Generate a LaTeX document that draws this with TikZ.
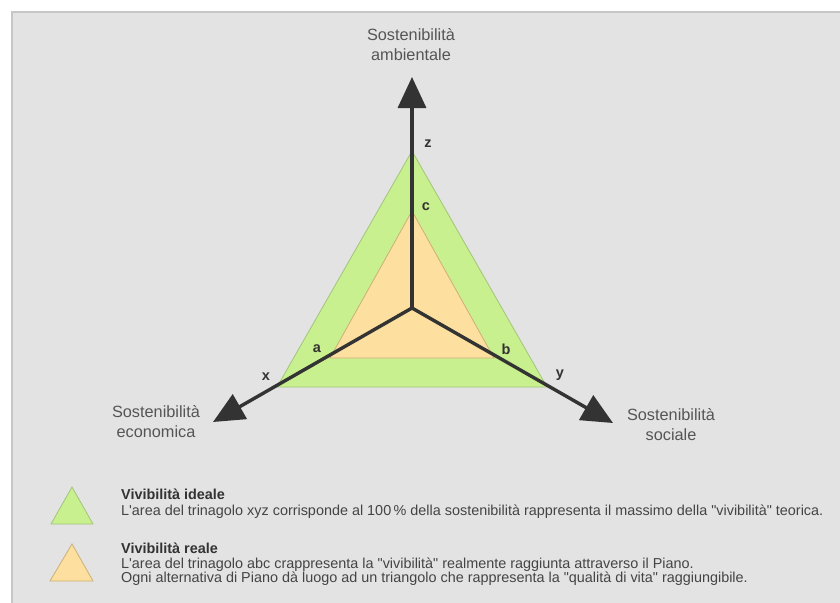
\documentclass[tikz,border=0pt]{standalone}
\usepackage{fontspec}
\setmainfont{Liberation Sans}
\usetikzlibrary{arrows.meta}
\definecolor{panelgrey}{HTML}{E3E3E3}
\definecolor{panelline}{HTML}{C6C6C6}
\definecolor{idealfill}{HTML}{C9F08E}
\definecolor{idealline}{HTML}{A2C47A}
\definecolor{realfill}{HTML}{FDE09F}
\definecolor{realline}{HTML}{CDB077}
\definecolor{axisdark}{HTML}{333333}
\definecolor{labelgrey}{HTML}{555555}
\begin{document}
\begin{tikzpicture}
  [x=1pt,y=-1pt,
   axis/.style={draw=axisdark,line width=3.4pt,-{Triangle[length=31pt,width=28pt]}},
   axislabel/.style={text=labelgrey,align=center,font=\fontsize{16.3}{20}\selectfont},
   vertex/.style={text=axisdark,font=\fontsize{14.5}{14.5}\selectfont\bfseries},
   legendtext/.style={anchor=base west,inner sep=0pt,text=axisdark,font=\fontsize{14.4}{14.5}\selectfont}]
  \useasboundingbox (0,0) rectangle (840,602);
  \fill[white] (0,0) rectangle (840,602);
  \filldraw[fill=panelgrey,draw=panelline,line width=1.5pt] (12,12) rectangle (842,604);

  \coordinate (o) at (412,308);
  \coordinate (z) at (412,151);
  \coordinate (x) at (277,387);
  \coordinate (y) at (547,387);
  \coordinate (c) at (412,211);
  \coordinate (a) at (330,358);
  \coordinate (b) at (494,358);
  \coordinate (tz) at (412,77);
  \coordinate (tx) at (213,422);
  \coordinate (ty) at (613,423);

  \filldraw[fill=idealfill,draw=idealline,line width=0.8pt] (x) -- (y) -- (z) -- cycle;
  \filldraw[fill=realfill,draw=realline,line width=0.8pt] (a) -- (b) -- (c) -- cycle;

  \foreach \tip in {tz,tx,ty}
    \draw[axis] (o) -- (\tip);

  \node (lz)[axislabel] at (411,45) {Sostenibilità\\ambientale};
  \node (lx)[axislabel] at (156,422) {Sostenibilità\\economica};
  \node (ly)[axislabel] at (671,425) {Sostenibilità\\sociale};

  \node (nz)[vertex] at (428,144) {z};
  \node (nc)[vertex] at (426,207) {c};
  \node (na)[vertex] at (317,349) {a};
  \node (nb)[vertex] at (506,349) {b};
  \node (nx)[vertex] at (266,377) {x};
  \node (ny)[vertex] at (560,375) {y};

  \filldraw[fill=idealfill,draw=idealline,line width=0.8pt] (51,524) -- (93,524) -- (72,487) -- cycle;
  \filldraw[fill=realfill,draw=realline,line width=0.8pt] (50,581) -- (93,581) -- (72,544) -- cycle;

  \node (t1)[legendtext] at (121,499) {\bfseries Vivibilità ideale};
  \node (d1)[legendtext,text=labelgrey!80!black] at (121,515) {L\textquotesingle area del trinagolo xyz corrisponde al 100\,\% della sostenibilità rappresenta il massimo della \textquotedbl vivibilità\textquotedbl{} teorica.};
  \node (t2)[legendtext] at (121,553) {\bfseries Vivibilità reale};
  \node (d2)[legendtext,text=labelgrey!80!black] at (121,568) {L\textquotesingle area del trinagolo abc crappresenta la \textquotedbl vivibilità\textquotedbl{} realmente raggiunta attraverso il Piano.};
  \node (d3)[legendtext,text=labelgrey!80!black] at (121,582) {Ogni alternativa di Piano dà luogo ad un triangolo che rappresenta la \textquotedbl qualità di vita\textquotedbl{} raggiungibile.};
\end{tikzpicture}
\end{document}
